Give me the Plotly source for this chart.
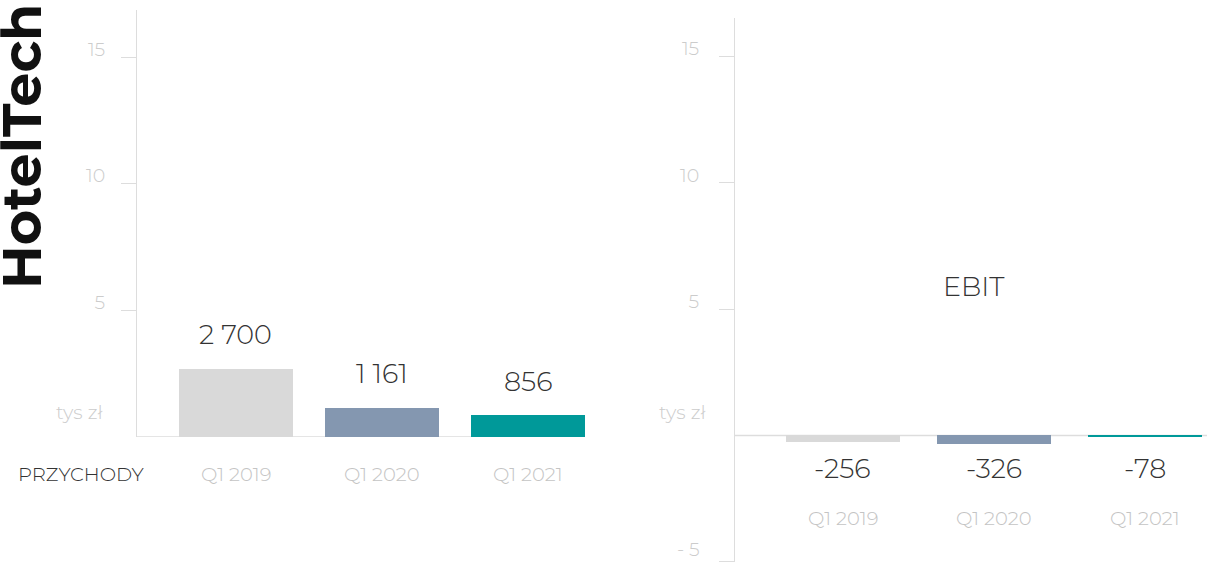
import plotly.graph_objects as go

categories = ["Q1 2019", "Q1 2020", "Q1 2021"]
revenue = [2.700, 1.161, 0.856]          # mln zł (axis in thousands of tys zł)
revenue_labels = ["2 700", "1 161", "856"]
ebit = [-0.256, -0.326, -0.078]
ebit_labels = ["-256", "-326", "-78"]
bar_colors = ["#d9d9d9", "#8497b0", "#009999"]

left_ticks = [5, 10, 15]
left_ticktext = ["5", "10", "15"]
right_ticks = [-5, 5, 10, 15]
right_ticktext = ["", "5", "10", "15"]
right_min_value = -5
right_min_label = "- 5"

W, H = 1214, 563
FONT = "Montserrat, Lato, sans-serif"
idx = list(range(len(categories)))

fig = go.Figure()
fig.add_trace(go.Bar(x=idx, y=revenue, marker=dict(color=bar_colors, line=dict(width=0)),
                     width=0.78, xaxis="x", yaxis="y", hoverinfo="skip"))
fig.add_trace(go.Bar(x=idx, y=ebit, marker=dict(color=bar_colors, line=dict(width=0)),
                     width=0.755, xaxis="x2", yaxis="y2", hoverinfo="skip"))

def px_x(p):
    return p / W

def px_y(p):
    return (H - p) / H

TICKFONT = dict(family=FONT, size=19, color="#cccccc", weight=300)
yaxis_common = dict(showline=True, linecolor="#dddddd", linewidth=1, ticks="outside",
                    ticklen=15, tickcolor="#dddddd", showgrid=False, zeroline=False,
                    tickfont=TICKFONT, ticklabelshift=-8, automargin=False,
                    fixedrange=True)
xaxis_common = dict(showline=False, showgrid=False, zeroline=False, showticklabels=False,
                    ticks="", fixedrange=True, automargin=False)

def ann(**kw):
    d = dict(showarrow=False, xanchor="center", yanchor="middle")
    d.update(kw)
    return d

VALFONT = dict(family=FONT, size=27, color="#333333", weight=300)
CATFONT = dict(family=FONT, size=19.5, color="#c4c4c4", weight=300)

annotations = []
for i, (v, lab, cat) in enumerate(zip(revenue, revenue_labels, categories)):
    annotations.append(ann(x=i, y=v, xref="x", yref="y", text=lab, yshift=34, font=VALFONT))
    annotations.append(ann(x=i, y=0, xref="x", yref="y", text=cat, yshift=-37, font=CATFONT))
for i, (v, lab, cat) in enumerate(zip(ebit, ebit_labels, categories)):
    annotations.append(ann(x=i, y=0, xref="x2", yref="y2", text=lab, yshift=-33, font=VALFONT))
    annotations.append(ann(x=i, y=0, xref="x2", yref="y2", text=cat, yshift=-83, font=CATFONT))

annotations += [
    ann(x=px_x(81), y=px_y(474), xref="paper", yref="paper", text="PRZYCHODY",
        font=dict(family=FONT, size=19.5, color="#333333", weight=300)),
    ann(x=px_x(79), y=px_y(412), xref="paper", yref="paper", text="tys zł",
        font=dict(family=FONT, size=19.5, color="#cccccc", weight=300)),
    ann(x=px_x(682), y=px_y(412), xref="paper", yref="paper", text="tys zł",
        font=dict(family=FONT, size=19.5, color="#cccccc", weight=300)),
    ann(x=px_x(974), y=px_y(286), xref="paper", yref="paper", text="EBIT", font=VALFONT),
    ann(x=px_x(22), y=px_y(147), xref="paper", yref="paper", text="HotelTech",
        textangle=-90,
        font=dict(family=FONT, size=54, color="#111111", weight=700)),
    # bottom tick label of the EBIT axis, kept inside the figure
    ann(x=px_x(701), y=right_min_value, xref="paper", yref="y2", text=right_min_label,
        xanchor="right", yanchor="bottom", borderpad=0, font=TICKFONT),
]

shapes = [
    dict(type="line", xref="x", yref="y", x0=-0.678, x1=2.03, y0=0, y1=0,
         line=dict(color="#dddddd", width=1.5), layer="below"),
    dict(type="line", xref="x2", yref="y2", x0=-0.715, x1=2.41, y0=0, y1=0,
         line=dict(color="#dddddd", width=1.5), layer="below"),
]

fig.update_layout(
    width=W, height=H, autosize=False,
    margin=dict(l=0, r=0, t=0, b=0),
    paper_bgcolor="white", plot_bgcolor="white",
    showlegend=False, bargap=0,
    xaxis=dict(domain=[px_x(137), px_x(601)], range=[-0.678, 2.5], anchor="y", **xaxis_common),
    yaxis=dict(domain=[px_y(437), px_y(10)], range=[0, 16.86], anchor="x",
               tickvals=left_ticks, ticktext=left_ticktext, ticklabelstandoff=12, **yaxis_common),
    xaxis2=dict(domain=[px_x(735), px_x(1207)], range=[-0.715, 2.41], anchor="y2", **xaxis_common),
    yaxis2=dict(domain=[px_y(562.2), px_y(18)], range=[-5.02, 16.53], anchor="x2",
                tickvals=right_ticks, ticktext=right_ticktext, ticklabelstandoff=16, **yaxis_common),
    annotations=annotations,
    shapes=shapes,
)

post = ("document.body.style.margin='0';"
        "document.body.style.overflow='hidden';"
        "document.documentElement.style.overflow='hidden';")

fig.write_html("out.html", config={"displayModeBar": False}, post_script=post)
